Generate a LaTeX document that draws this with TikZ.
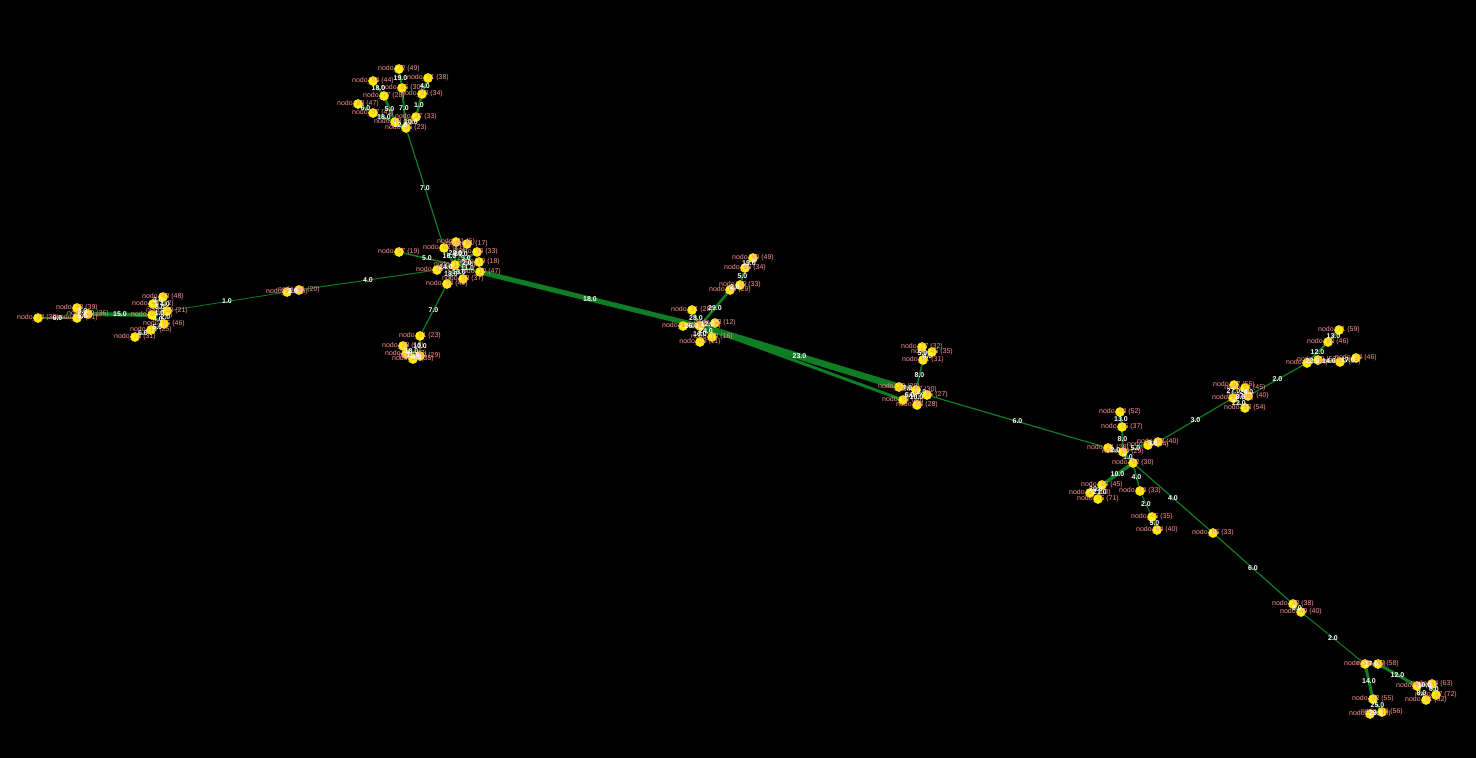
\documentclass[tikz,border=0pt]{standalone}
\usepackage{fontspec}
\setmainfont{Liberation Sans}
\usetikzlibrary{backgrounds}
\definecolor{lnkgreen}{RGB}{15,125,35}
\definecolor{lblpink}{RGB}{255,145,145}
\tikzset{
  vtx/.style={circle,fill=yellow,draw=yellow!80!orange,line width=0.6pt,inner sep=0pt,minimum size=9pt},
  lbl/.style={text=lblpink,font=\fontsize{7}{8}\selectfont,inner sep=0pt},
  lnk/.style={draw=lnkgreen},
  wt/.style={text=white,font=\fontsize{7}{8}\selectfont\bfseries,inner sep=0pt}
}
% graph nodes: name / x / y / label
\def\nodelist{
  t1/399/69/{72 (49)}, t2/428/78/{91 (38)}, t3/373/81/{94 (44)},
  t4/402/88/{85 (30)}, t5/384/96/{77 (28)}, t6/422/94/{83 (34)},
  t7/358/104/{93 (47)}, t8/373/113/{87 (41)}, t9/416/117/{37 (33)},
  t10/395/122/{68 (36)}, t11/406/128/{66 (23)},
  m0/455/265/{12 (26)}, m1/399/252/{57 (19)}, m2/456/242/{61 (6)},
  m3/467/244/{81 (17)}, m4/444/248/{62 (21)}, m5/477/252/{38 (33)},
  m7/479/262/{19 (18)}, m8/437/270/{36 (24)}, m9/480/272/{10 (47)},
  m10/463/279/{93 (37)}, m11/447/284/{34 (40)},
  s1/287/292/{27 (35)}, s2/299/290/{41 (20)},
  c1/163/297/{83 (48)}, c2/153/304/{45 (12)}, c3/167/311/{58 (21)},
  c4/152/315/{96 (27)}, c5/164/324/{95 (46)}, c6/151/330/{15 (25)},
  c7/135/337/{78 (31)},
  d1/77/308/{43 (39)}, d2/88/314/{20 (36)}, d3/77/318/{39 (41)},
  d4/38/318/{24 (30)},
  e1/420/336/{61 (23)}, e2/403/346/{28 (19)}, e3/406/354/{73 (47)},
  e4/420/356/{30 (29)}, e5/413/359/{55 (35)},
  f1/753/258/{80 (49)}, f2/745/268/{86 (34)}, f3/740/285/{20 (33)},
  f4/730/290/{95 (29)}, f5/692/310/{31 (28)}, f6/715/323/{58 (12)},
  f7/683/326/{14 (25)}, f8/700/326/{47 (20)}, f9/712/337/{70 (16)},
  f10/700/342/{23 (11)},
  g1/922/347/{77 (32)}, g2/932/352/{45 (35)}, g3/923/360/{81 (31)},
  g4/899/387/{39 (29)}, g5/916/390/{57 (30)}, g6/927/395/{25 (27)},
  g7/903/400/{88 (26)}, g8/917/405/{68 (28)},
  h1/1120/412/{44 (52)}, h2/1122/427/{16 (37)}, h3/1108/448/{21 (28)},
  h4/1123/452/{84 (29)}, h5/1148/445/{69 (34)}, h6/1158/442/{68 (40)},
  h7/1133/463/{52 (30)}, h8/1102/485/{16 (45)}, h9/1090/493/{17 (60)},
  h10/1098/499/{56 (71)}, h11/1140/491/{14 (33)},
  n1/1152/517/{45 (35)}, n2/1157/530/{64 (40)}, j1/1213/533/{96 (33)},
  i1/1234/385/{67 (55)}, i2/1245/388/{11 (45)}, i3/1233/398/{12 (24)},
  i4/1248/396/{87 (40)}, i5/1245/408/{53 (54)}, i6/1307/363/{29 (34)},
  i7/1318/360/{40 (53)}, i8/1340/362/{50 (35)}, i9/1356/358/{34 (46)},
  i10/1328/342/{80 (46)}, i11/1339/330/{71 (59)},
  k1/1293/604/{30 (38)}, k2/1301/612/{49 (40)},
  l1/1365/664/{76 (41)}, l2/1378/664/{90 (58)}, l3/1417/686/{60 (61)},
  l4/1432/684/{74 (63)}, l5/1436/695/{57 (72)}, l6/1426/700/{31 (62)},
  l7/1373/699/{82 (55)}, l8/1382/712/{84 (56)}, l9/1370/714/{92 (50)}}
% links: from / to / width / weight
\def\linklist{
  t1/t4/2/19.0, t3/t5/2/18.0, t2/t6/2/4.0, t4/t11/2/7.0, t5/t10/2.5/5.0,
  t6/t9/2.5/1.0, t7/t8/2/6.0, t8/t10/2.5/18.0, t10/t11/2.5/12.0,
  t9/t11/2.5/10.0, t11/m4/1.2/7.0,
  m1/m0/1.5/5.0, m2/m0/2/28.0, m3/m0/2/20.0, m4/m0/2/16.0, m5/m0/2/9.0,
  m7/m0/2/2.0, m8/m0/2/14.0, m9/m0/2/11.0, m10/m0/2/13.0, m11/m0/2/18.0,
  m8/s2/1/4.0, m11/e1/1.2/7.0, s1/s2/1/2.0, s1/c3/0.8/1.0,
  c1/c2/1.5/3.0, c1/c3/1.5/4.0, c2/c3/1.5/3.0, c4/c3/1.5/1.0,
  c5/c4/1.5/4.0, c5/c3/1.5/2.0, c6/c5/1.5/5.0, c6/c7/1.5/6.0,
  d1/d2/1.5/3.0, d3/d2/1.5/5.0, d4/d3/1.5/6.0, d2/c4/4/15.0,
  e1/e4/2/10.0, e2/e4/2/18.0, e3/e4/2/11.0, e5/e4/2/4.0,
  f1/f2/2/19.0, f2/f3/2/5.0, f3/f4/2/2.0, f4/f8/2.5/29.0, f5/f8/2.5/28.0,
  f6/f8/2/12.0, f7/f8/2/26.0, f9/f8/2/24.0, f10/f8/2/16.0,
  m9/f8/5/18.0, f8/g4/6.5/23.0,
  g1/g3/1.5/5.0, g2/g3/1.5/4.0, g3/g5/1.5/8.0, g4/g5/1.5/7.0,
  g6/g5/1.5/2.0, g7/g5/1.5/6.0, g8/g5/1.5/10.0, g6/h3/1.2/6.0,
  h1/h2/2/13.0, h2/h4/2/8.0, h3/h4/2/2.0, h4/h5/1.5/5.0, h5/h6/1.5/3.0,
  h4/h7/2/1.0, h7/h8/3.5/10.0, h8/h9/2/20.0, h8/h10/2/21.0,
  h7/h11/1.5/4.0, h11/n1/1/2.0, n1/n2/1.5/5.0, h7/j1/1.2/4.0,
  h6/i3/1.2/3.0,
  i1/i3/1.5/27.0, i2/i4/1.5/24.0, i3/i4/1.5/8.0, i5/i3/1.5/22.0,
  i4/i6/1.2/2.0, i6/i10/2/12.0, i10/i11/2/13.0, i6/i7/2/22.0,
  i7/i8/2/14.0, i8/i9/2/17.0,
  j1/k1/1.2/6.0, k1/k2/1.5/3.0, k2/l1/1/2.0,
  l1/l2/2/17.0, l2/l3/3/12.0, l1/l7/3/14.0, l7/l8/2.5/25.0,
  l9/l8/2/29.0, l3/l4/2/10.0, l3/l6/2/8.0, l4/l5/2/6.0}

\begin{document}
\begin{tikzpicture}[x=1pt,y=-1pt]
  \useasboundingbox (0,0) rectangle (1476,758);
  \foreach \n/\x/\y/\t in \nodelist
    \node[vtx] (\n) at (\x,\y) {};
  \begin{scope}[on background layer]
    \fill[black] (0,0) rectangle (1476,758);
    \foreach \a/\b/\w/\l in \linklist
      \draw[lnk,line width=\w pt] (\a) -- (\b);
    % the wide band between the two middle groups
    \draw[lnk,line width=3pt] (f8) -- (g5);
    \draw[lnk,line width=3pt] (f8) -- (g7);
  \end{scope}
  % texts over the circles
  \foreach \n/\x/\y/\t in \nodelist
    \node[lbl] (\n l) at (\n) {nodo\_\t};
  \foreach \a/\b/\w/\l in \linklist
    \path (\a) -- node[wt] (\a\b) {\l} (\b);
\end{tikzpicture}
\end{document}
